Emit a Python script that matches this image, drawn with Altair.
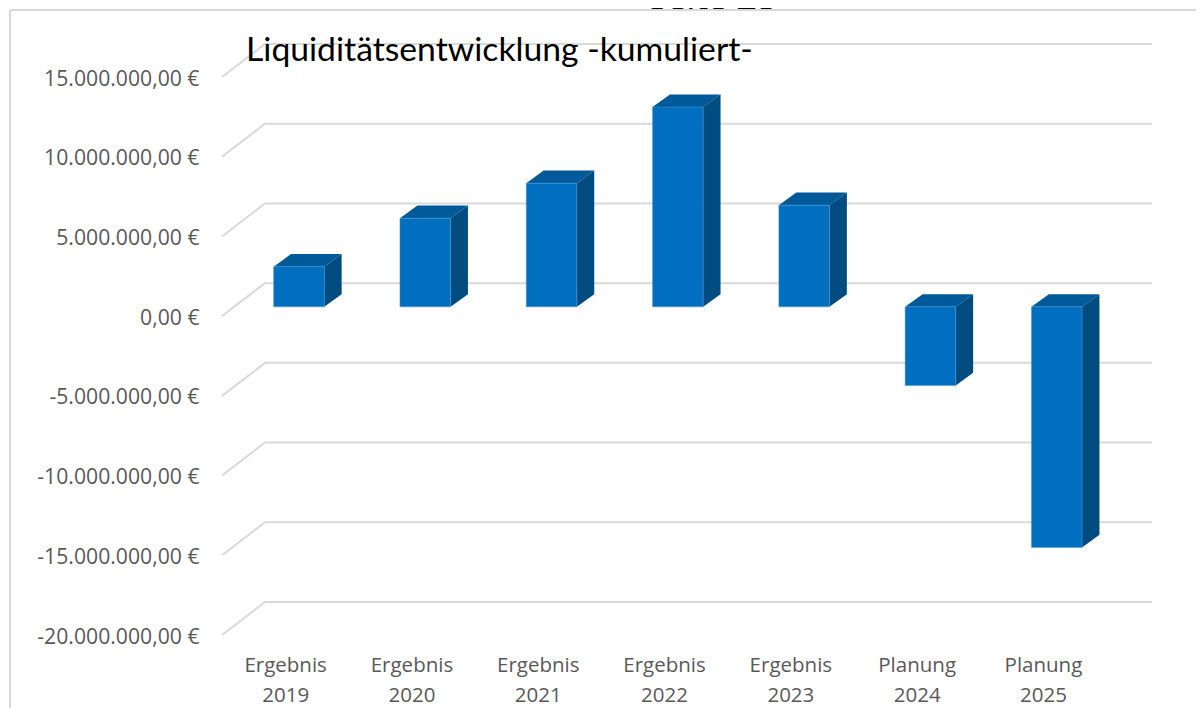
import altair as alt
import pandas as pd

categories = ["Ergebnis\n2019", "Ergebnis\n2020", "Ergebnis\n2021", "Ergebnis\n2022",
              "Ergebnis\n2023", "Planung\n2024", "Planung\n2025"]
values = [2520000, 5560000, 7760000, 12530000, 6380000, -4930000, -15090000]
y_ticks = [15000000, 10000000, 5000000, 0, -5000000, -10000000, -15000000, -20000000]
y_labels = ["15.000.000,00 €", "10.000.000,00 €", "5.000.000,00 €", "0,00 €",
            "-5.000.000,00 €", "-10.000.000,00 €", "-15.000.000,00 €", "-20.000.000,00 €"]
title_text = ["Liquiditätsentwicklung -kumuliert-"]
page_text = ["Seite 25"]

PX_X = 126.3          # px per category
PX_Y = 15.94 / 1e6    # px per euro
W, H = 930, 591
x_dom = [-0.5, W / PX_X - 0.5]
y_dom = [-20000000, 15000000 + 33 / PX_Y]

bar_shift, bar_half = 13.8 / PX_X, 25.3 / PX_X
dx, dy = 17.4 / PX_X, 12.6 / PX_Y
wall_dx, wall_dy = 43 / PX_X, 33 / PX_Y
x_end = x_dom[1]

bars, side, top, grid = [], [], [], []
for i, v in enumerate(values):
    l, r = i + bar_shift - bar_half, i + bar_shift + bar_half
    lo, hi = min(v, 0), max(v, 0)
    bars.append(dict(l=l, r=r, v=v, zero=0))
    side += [dict(k=i, x=r, y=lo, y2=hi), dict(k=i, x=r + dx, y=lo + dy, y2=hi + dy)]
    top += [dict(k=i, x=l, y=hi, y2=hi), dict(k=i, x=l + dx, y=hi, y2=hi + dy),
            dict(k=i, x=r, y=hi, y2=hi + dy), dict(k=i, x=r + dx, y=hi + dy, y2=hi + dy)]
for t in y_ticks:
    grid += [dict(t=t, o=0, x=x_dom[0], y=t), dict(t=t, o=1, x=x_dom[0] + wall_dx, y=t + wall_dy),
             dict(t=t, o=2, x=x_end, y=t + wall_dy)]

y_expr = "{" + ",".join(f"'{t}':'{s}'" for t, s in zip(y_ticks, y_labels)) + "}[''+datum.value]"
x_expr = "split([" + ",".join("'" + c.replace("\n", "|") + "'" for c in categories) + "][datum.value],'|')"

x_scale = alt.Scale(domain=x_dom, nice=False, zero=False)
y_scale = alt.Scale(domain=y_dom, nice=False, zero=False)
LIFT = -9.3

axis_x = alt.X("x:Q", scale=x_scale, title=None,
               axis=alt.Axis(values=list(range(len(categories))), labelExpr=x_expr, grid=False, domain=False,
                             ticks=False, labelColor="#595959", labelFont="Open Sans", labelFontSize=20.5,
                             labelLineHeight=30, labelPadding=20, labelOverlap=False, labelFlush=False,
                             labelBound=False, labelAngle=0, labelAlign="center"))
axis_y = alt.Y("y:Q", scale=y_scale, title=None,
               axis=alt.Axis(values=y_ticks, labelExpr=y_expr, grid=False, domain=False, ticks=False,
                             labelColor="#595959", labelFont="Open Sans", labelFontSize=21.2, labelOffset=2,
                             labelPadding=23, labelOverlap=False, labelFlush=False, labelBound=False))

grid_layer = alt.Chart(pd.DataFrame(grid)).mark_line(color="#d9d9d9", strokeWidth=2).encode(
    x=axis_x, y=axis_y, detail="t:N", order="o:Q")

top_layer = alt.Chart(pd.DataFrame(top)).mark_area(color="#005a9a", orient="vertical", yOffset=LIFT, y2Offset=LIFT).encode(
    x=alt.X("x:Q", scale=x_scale), y=alt.Y("y:Q", scale=y_scale), y2="y2:Q", detail="k:N")
side_layer = alt.Chart(pd.DataFrame(side)).mark_area(color="#004b80", orient="vertical", yOffset=LIFT, y2Offset=LIFT).encode(
    x=alt.X("x:Q", scale=x_scale), y=alt.Y("y:Q", scale=y_scale), y2="y2:Q", detail="k:N")
front_layer = alt.Chart(pd.DataFrame(bars)).mark_rect(color="#006fc0", yOffset=LIFT, y2Offset=LIFT,
                                                      stroke="#4d94d0", strokeWidth=0.5).encode(
    x=alt.X("l:Q", scale=x_scale), x2="r:Q", y=alt.Y("v:Q", scale=y_scale), y2="zero:Q")

frame_top = alt.Chart(pd.DataFrame({"a": [0]})).mark_rule(color="#d9d9d9", strokeWidth=2).encode(
    x=alt.value(-212), x2=alt.value(974), y=alt.value(-34))
frame_left = alt.Chart(pd.DataFrame({"a": [0]})).mark_rule(color="#d9d9d9", strokeWidth=2).encode(
    x=alt.value(-212), y=alt.value(-34), y2=alt.value(664))
page_layer = alt.Chart(pd.DataFrame({"s": page_text})).mark_text(
    font="Lato", fontSize=36, color="#000000", align="center", baseline="alphabetic").encode(
    text="s:N", x=alt.value(491), y=alt.value(-34))
title_layer = alt.Chart(pd.DataFrame({"s": title_text})).mark_text(
    font="Lato", fontSize=33.7, color="#000000", align="left", baseline="alphabetic").encode(
    text="s:N", x=alt.value(24), y=alt.value(17))

chart = alt.layer(page_layer, frame_top, frame_left, grid_layer, top_layer, side_layer, front_layer, title_layer).properties(
    width=W, height=H,
    padding={"left": 214, "top": 36, "right": 44, "bottom": 73},
    autosize=alt.AutoSizeParams(type="none"),
).configure_view(stroke=None)

chart.save("out.html", embed_options={"renderer": "svg", "actions": False})
